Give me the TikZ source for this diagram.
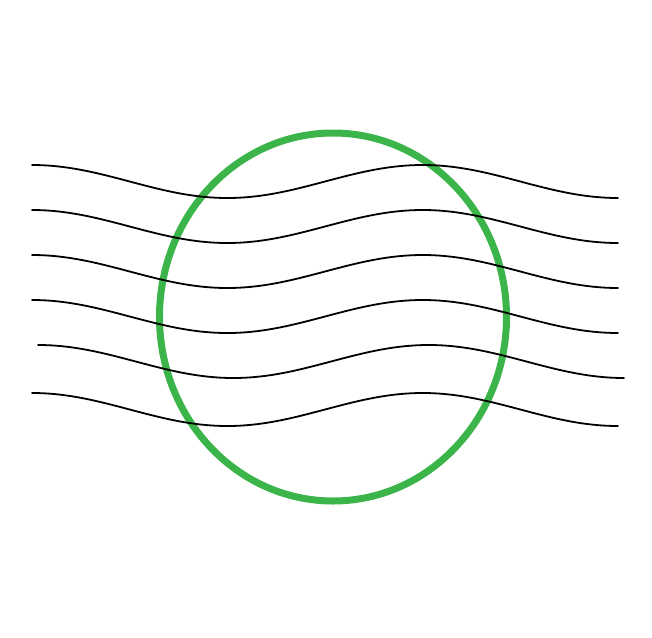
\documentclass[tikz,border=0pt]{standalone}
\usepackage{xcolor}
\usepackage{tikz}
\definecolor{ringgreen}{HTML}{3BB54A}
\tikzset{
  ring/.style={draw=ringgreen, line width=7pt},
  wave/.style={draw=black, line width=1.8pt, line cap=round},
}

\begin{document}
\begin{tikzpicture}[x=1pt, y=-1pt]
  \useasboundingbox (0,0) rectangle (652,637);
  \draw[ring] (333,317) ellipse [x radius=173.5, y radius=184];
  % six waves, start point and quarter length
  \foreach \sx/\sy in {32/165, 32/210, 32/255, 32/300, 38/345, 32/393} {
    \draw[wave] (\sx,\sy) cos ++(97.67,16.5) sin ++(97.67,16.5)
      cos ++(97.67,-16.5) sin ++(97.67,-16.5)
      cos ++(97.67,16.5) sin ++(97.67,16.5);
  }
\end{tikzpicture}
\end{document}
